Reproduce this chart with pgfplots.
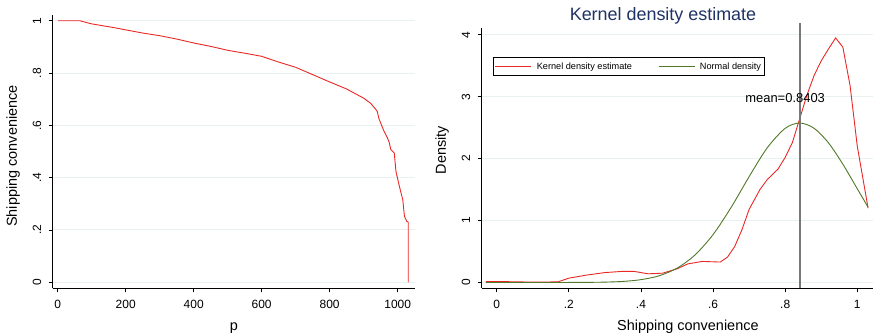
\documentclass[border=0pt]{standalone}
\usepackage{fontspec}
\setmainfont{Liberation Sans}
\usepackage{pgfplots}
\pgfplotsset{compat=1.18}

\definecolor{kred}{RGB}{232,40,36}
\definecolor{ngreen}{RGB}{80,120,40}
\definecolor{gridc}{RGB}{232,240,242}
\definecolor{titlec}{RGB}{30,50,100}
\definecolor{meanc}{RGB}{120,120,120}

\pgfplotsset{
  statastyle/.style={
    scale only axis,
    axis x line*=bottom,
    axis y line*=left,
    axis line style={black, line width=0.9bp},
    tick align=outside,
    major tick length=4bp,
    tick style={black, line width=0.7bp},
    xtick pos=bottom, ytick pos=left,
    ymajorgrids,
    major grid style={gridc, line width=1bp},
    /pgf/number format/assume math mode=true,
    /pgf/number format/1000 sep={},
    ticklabel style={font=\fontsize{12}{13}\selectfont},
    yticklabel style={rotate=90, anchor=south},
    xticklabel shift=4bp,
    yticklabel shift=4bp,
    label style={font=\fontsize{14.5}{16}\selectfont},
  }
}

\begin{document}
\begin{tikzpicture}
\useasboundingbox (0bp,0bp) rectangle (874bp,336bp);

% Quantile plot of shipping convenience
\begin{axis}[statastyle,
  at={(52.7bp,47.7bp)}, anchor=south west,
  width=362.3bp, height=273.3bp,
  xmin=-14.7, xmax=1051, ymin=-0.023, ymax=1.022,
  xtick={0,200,400,600,800,1000},
  ytick={0,0.2,0.4,0.6,0.8,1},
  yticklabels={0,.2,.4,.6,.8,1},
  xlabel={p}, ylabel={Shipping convenience},
  xlabel style={at={(ticklabel cs:0.5,8bp)}},
  ylabel style={at={(ticklabel cs:0.484,6bp)}},
]
\addplot[kred, line width=0.9bp] coordinates {
(1,1.000) (65,1.000) (100,0.988) (160,0.975) (250,0.953) (300,0.943)
(350,0.930) (400,0.915) (450,0.902) (500,0.887) (550,0.876) (600,0.864)
(650,0.842) (700,0.822) (750,0.794) (800,0.766) (850,0.739) (900,0.704)
(920,0.685) (935,0.662) (940,0.653) (945,0.625) (950,0.609) (960,0.577)
(970,0.552) (975,0.535) (980,0.507) (990,0.494) (995,0.424) (1005,0.367)
(1015,0.316) (1020,0.252) (1027,0.233) (1031,0.230) (1031,0.000)
};
\end{axis}

% Kernel density with normal overlay
\begin{axis}[statastyle,
  at={(481.7bp,47.7bp)}, anchor=south west,
  width=391.3bp, height=260.3bp,
  xmin=-0.0416, xmax=1.0436, ymin=-0.094, ymax=4.11,
  xtick={0,0.2,0.4,0.6,0.8,1},
  xticklabels={0,.2,.4,.6,.8,1},
  ytick={0,1,2,3,4},
  xlabel={Shipping convenience}, ylabel={Density},
  xlabel style={at={(ticklabel cs:0.527,5bp)}},
  ylabel style={at={(ticklabel cs:0.531,6bp)}},
  clip=false,
  legend columns=2,
  legend style={at={(0.0289,0.8886)}, anchor=north west,
    draw=black, line width=0.8bp, inner xsep=1.5bp, inner ysep=3bp,
    font=\fontsize{9.2}{10}\selectfont,
    /tikz/every even column/.append style={column sep=24bp}},
  legend image code/.code={%
    \draw[#1, line width=0.9bp] (0bp,0bp) -- (36bp,0bp);
    \path (39bp,0bp);},
]
\addplot[kred, line width=0.9bp] coordinates {
(-0.03,0.015) (0.05,0.012) (0.10,0.005) (0.17,0.010) (0.20,0.070)
(0.25,0.120) (0.30,0.160) (0.35,0.180) (0.38,0.180) (0.42,0.140)
(0.46,0.150) (0.50,0.220) (0.53,0.300) (0.57,0.340) (0.62,0.330)
(0.64,0.410) (0.66,0.580) (0.68,0.850) (0.70,1.180) (0.73,1.500)
(0.75,1.660) (0.78,1.830) (0.80,2.020) (0.82,2.260) (0.84,2.640)
(0.86,3.020) (0.88,3.340) (0.90,3.580) (0.92,3.770) (0.94,3.950)
(0.96,3.800) (0.98,3.180) (1.00,2.200) (1.03,1.200)
};
\addlegendentry{Kernel density estimate}
\addplot[ngreen, line width=0.9bp, smooth] coordinates {
(-0.03,0.0000) (0.10,0.0000) (0.20,0.0005) (0.25,0.0018) (0.30,0.0059)
(0.35,0.0172) (0.40,0.0454) (0.45,0.1077) (0.50,0.2307) (0.55,0.4448)
(0.60,0.7733) (0.65,1.2115) (0.70,1.7088) (0.75,2.1728) (0.80,2.4893)
(0.8403,2.5750) (0.88,2.4919) (0.92,2.2557) (0.96,1.9104) (1.00,1.5133)
(1.03,1.2161)
};
\addlegendentry{Normal density}
\draw[meanc, line width=1.6bp] (axis cs:0.8403,-0.094) -- (axis cs:0.8403,4.19);
\node[anchor=west, inner sep=0pt, font=\fontsize{13}{14}\selectfont]
  at (axis cs:0.689,2.98) {mean=0.8403};
\end{axis}

\node[titlec, font=\fontsize{18}{20}\selectfont] at (663bp,320bp) {Kernel density estimate};
\end{tikzpicture}
\end{document}
